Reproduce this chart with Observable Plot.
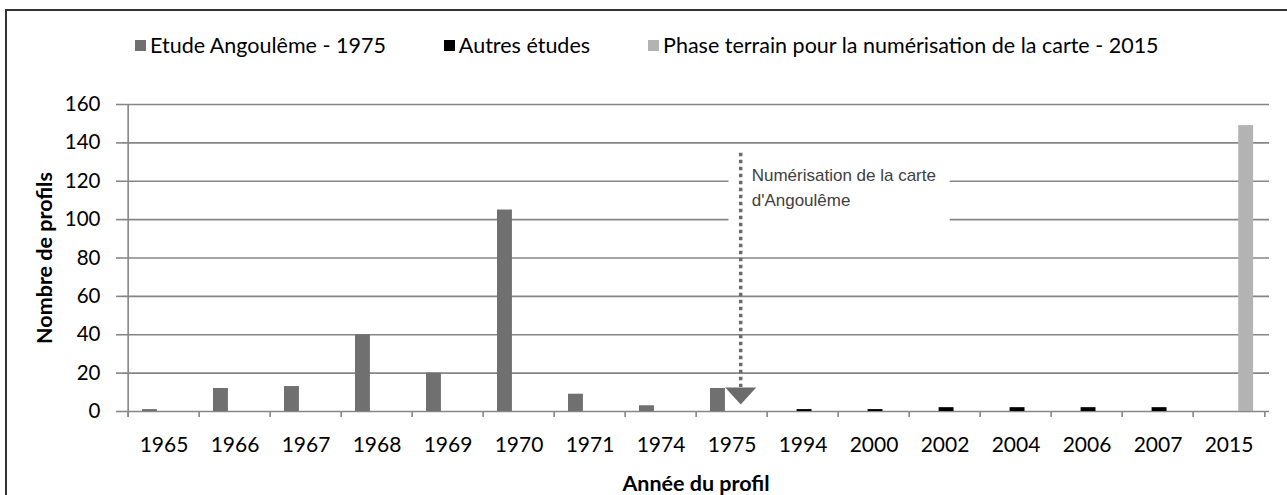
<!DOCTYPE html>
<html><head><meta charset="utf-8">
<script src="https://cdn.jsdelivr.net/npm/d3@7"></script>
<script src="https://cdn.jsdelivr.net/npm/@observablehq/plot@0.6"></script>
<style>
html,body{margin:0;padding:0;background:#fff;overflow:hidden;}
#wrap{position:relative;width:1287px;height:495px;}
#legend{height:24px;padding-top:33px;padding-bottom:13px;padding-left:135px;display:flex;align-items:flex-start;font-family:Lato;font-size:21.5px;line-height:24px;color:#000;white-space:nowrap;}
.item{display:flex;align-items:center;margin-right:58px;}
.sw{width:11px;height:11px;margin-right:4px;}
#border{position:absolute;left:5px;top:9px;width:2000px;height:1000px;border-left:2px solid #333;border-top:2px solid #333;pointer-events:none;z-index:5;}
#chart svg{display:block;}
</style></head>
<body><div id="wrap"><div id="border"></div><div id="legend"></div><div id="chart"></div></div>
<script>
const years = ["1965","1966","1967","1968","1969","1970","1971","1974","1975","1994","2000","2002","2004","2006","2007","2015"];
const etudeAngouleme = [1,12,13,40,20,105,9,3,12,0,0,0,0,0,0,0];
const autresEtudes   = [0,0,0,0,0,0,0,0,0,1,1,2,2,2,2,0];
const phaseTerrain   = [0,0,0,0,0,0,0,0,0,0,0,0,0,0,0,149];
const seriesNames = ["Etude Angoulême - 1975","Autres études","Phase terrain pour la numérisation de la carte - 2015"];
const seriesColors = ["#707070","#000000","#b3b3b3"];
const yTicks = [0,20,40,60,80,100,120,140,160];
const xTitle = "Année du profil";
const yTitle = "Nombre de profils";
const annotation = [{year:"1975", boxEnd:"2002", label:"Numérisation de la carte\nd'Angoulême"}];

// legend
const legend = document.getElementById("legend");
seriesNames.forEach((n,i)=>{
  const it = document.createElement("div"); it.className="item";
  const sw = document.createElement("span"); sw.className="sw"; sw.style.background=seriesColors[i];
  const tx = document.createElement("span"); tx.textContent=n;
  it.append(sw,tx); legend.append(it);
});

const width=1287, height=425, marginLeft=122, marginRight=18, marginTop=34, marginBottom=84;
const step = (width - marginLeft - marginRight)/years.length;
const lead = 14, slot = 15.6;
const series = [etudeAngouleme, autresEtudes, phaseTerrain];
const gridColor = "#868686";

const barMarks = series.map((vals,i)=>Plot.barY(
  years.map((y,j)=>({year:y, value:vals[j]})).filter(d=>d.value>0),
  {x:"year", y:"value", fill:seriesColors[i], insetLeft: lead + i*slot, insetRight: step - lead - (i+1)*slot}
));

const chart = Plot.plot({
  width, height, marginLeft, marginRight, marginTop, marginBottom,
  style:{fontFamily:"Lato", fontSize:"20px", color:"#000", background:"transparent", overflow:"visible"},
  x:{type:"band", domain:years, padding:0},
  y:{domain:[0,160]},
  marks:[
    Plot.ruleY(yTicks, {stroke:gridColor, strokeWidth:1.6}),
    Plot.rect(annotation, {x1:"year", x2:"boxEnd", y1:95, y2:137, fill:"white", insetLeft:32.5, insetRight:30.25}),
    ...barMarks,
    Plot.ruleX(years, {x:d=>d, y1:0, y2:-3.1, dx:-step/2, stroke:gridColor, strokeWidth:1.6}),
    Plot.ruleX([years[0]], {x:d=>d, y1:160, y2:-3.1, dx:-step/2, stroke:gridColor, strokeWidth:1.6}),
    Plot.ruleX([years[years.length-1]], {x:d=>d, y1:0, y2:-3.1, dx:step/2, stroke:gridColor, strokeWidth:1.6}),
    Plot.axisY({ticks:yTicks, tickSize:6, tickPadding:16, stroke:gridColor, strokeWidth:1.6, fontSize:20.5, fill:"#000",
      label:yTitle, labelAnchor:"center", labelOffset:86, labelArrow:"none"}),
    Plot.axisX({tickSize:0, tickPadding:26, fontSize:21, fill:"#000",
      label:xTitle, labelAnchor:"center", labelOffset:79, labelArrow:"none"}),
    Plot.ruleX(annotation, {x:"year", y1:134.6, y2:12.5, dx:8.7, stroke:"#6b6b6b", strokeWidth:3.5, strokeDasharray:"3.5,3.5"}),
    Plot.dot(annotation, {x:"year", y:3.6, dx:8.7, r:10, fill:"#6b6b6b", stroke:"none",
      symbol:{draw(ctx){ctx.moveTo(-15.5,-17);ctx.lineTo(15.5,-17);ctx.lineTo(0,0);ctx.closePath();}}}),
    Plot.text(annotation, {x:"year", y:129.25, text:"label", dx:19.7, textAnchor:"start", lineAnchor:"top",
      fontFamily:"Liberation Sans", fontSize:17, lineHeight:1.47, fill:"#404040"})
  ]
});
// bold axis titles
chart.querySelectorAll("g[aria-label='x-axis label'] text, g[aria-label='y-axis label'] text").forEach(t=>{t.style.fontWeight="bold"; t.style.fontSize="21.5px";});
document.getElementById("chart").append(chart);
</script>
</body></html>
